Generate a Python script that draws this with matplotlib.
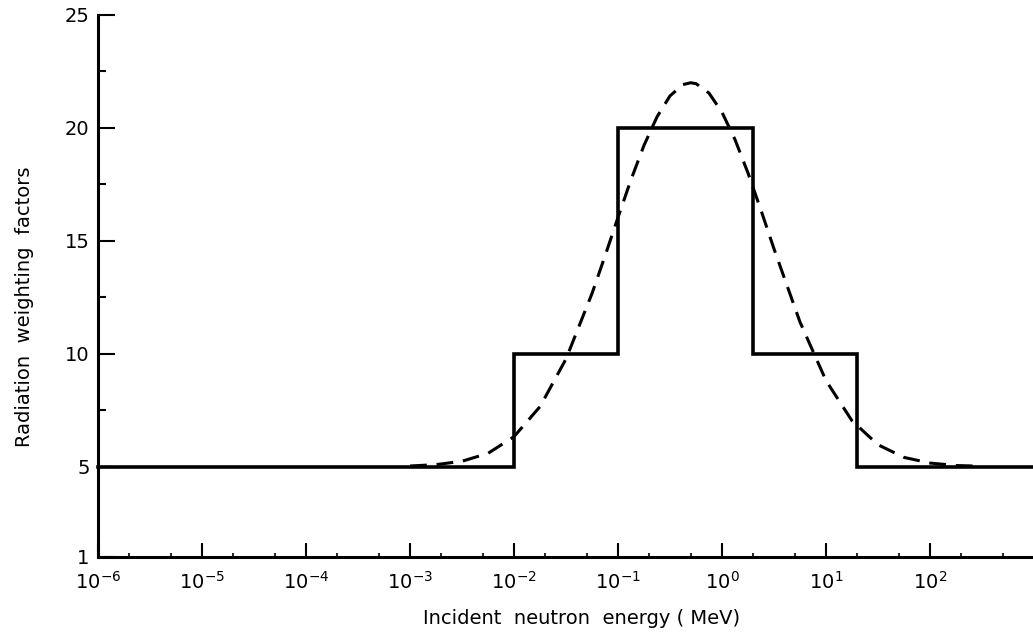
import numpy as np
import matplotlib
matplotlib.use("Agg")
import matplotlib.pyplot as plt
from matplotlib.ticker import LogLocator, FixedLocator, NullFormatter

# step function (ICRP 60 weighting factors)
step_edges = [1e-6, 1e-2, 1e-1, 2.0, 20.0, 1e3]
step_values = [5, 10, 20, 10, 5]

# smooth (dashed) curve
curve_log_e = [-3.0, -2.75, -2.5, -2.25, -2.0, -1.75, -1.5, -1.25, -1.125, -1.0,
               -0.875, -0.75, -0.625, -0.5, -0.375, -0.301, -0.25, -0.125, 0.0,
               0.125, 0.25, 0.375, 0.5, 0.75, 1.0, 1.25, 1.5, 1.75, 2.0, 2.25, 2.5]
curve_w = [5.03, 5.09, 5.24, 5.59, 6.33, 7.66, 9.77, 12.67, 14.33, 16.04,
           17.71, 19.23, 20.49, 21.42, 21.92, 22.0, 21.96, 21.54, 20.69,
           19.48, 18.0, 16.35, 14.64, 11.40, 8.81, 7.03, 5.97, 5.41, 5.16, 5.05, 5.02]

y_ticks = [1, 5, 10, 15, 20, 25]
y_minor = [7.5, 12.5, 17.5, 22.5]
x_ticks = [1e-6, 1e-5, 1e-4, 1e-3, 1e-2, 1e-1, 1e0, 1e1, 1e2]
x_ticklabels = [r'$10^{-6}$', r'$10^{-5}$', r'$10^{-4}$', r'$10^{-3}$', r'$10^{-2}$',
                r'$10^{-1}$', r'$10^{0}$', r'$10^{1}$', r'$10^{2}$']

plt.rcParams['font.family'] = ['DejaVu Sans']
plt.rcParams['mathtext.fontset'] = 'dejavusans'

fig = plt.figure(figsize=(10.33, 6.34), dpi=100)
ax = fig.add_axes([98 / 1033, 1 - 557 / 634, 1 - 98 / 1033, (557 - 15) / 634])

# step line
xs = []
ys = []
for i, v in enumerate(step_values):
    xs += [step_edges[i], step_edges[i + 1]]
    ys += [v, v]
ax.plot(xs, ys, color='black', lw=2.6, solid_joinstyle='miter', clip_on=False)

# dashed curve
ax.plot(10 ** np.array(curve_log_e), curve_w, color='black', lw=2.2,
        dashes=(5.5, 3.2))

ax.set_xscale('log')
ax.set_xlim(1e-6, 10 ** 2.99)
ax.set_ylim(1, 25)

for s in ['top', 'right']:
    ax.spines[s].set_visible(False)
for s in ['left', 'bottom']:
    ax.spines[s].set_linewidth(2.2)

ax.set_xticks(x_ticks)
ax.set_xticklabels(x_ticklabels)
ax.xaxis.set_minor_locator(LogLocator(base=10, subs=[2, 5], numticks=20))
ax.xaxis.set_minor_formatter(NullFormatter())
ax.set_yticks(y_ticks)
ax.yaxis.set_minor_locator(FixedLocator(y_minor))

ax.tick_params(axis='x', which='major', direction='in', length=10, width=1.5,
               labelsize=14, pad=10)
ax.tick_params(axis='x', which='minor', direction='in', length=3, width=1.2)
ax.tick_params(axis='y', which='major', direction='in', length=12, width=1.5,
               labelsize=14, pad=6)
ax.tick_params(axis='y', which='minor', direction='in', length=6, width=1.5)

fig.text(582 / 1033, 1 - 619 / 634, 'Incident  neutron  energy ( MeV)',
         ha='center', va='center', fontsize=14)
fig.text(25 / 1033, 1 - 307 / 634, 'Radiation  weighting  factors',
         ha='center', va='center', rotation=90, fontsize=14)

fig.savefig('out.png', dpi=100)
